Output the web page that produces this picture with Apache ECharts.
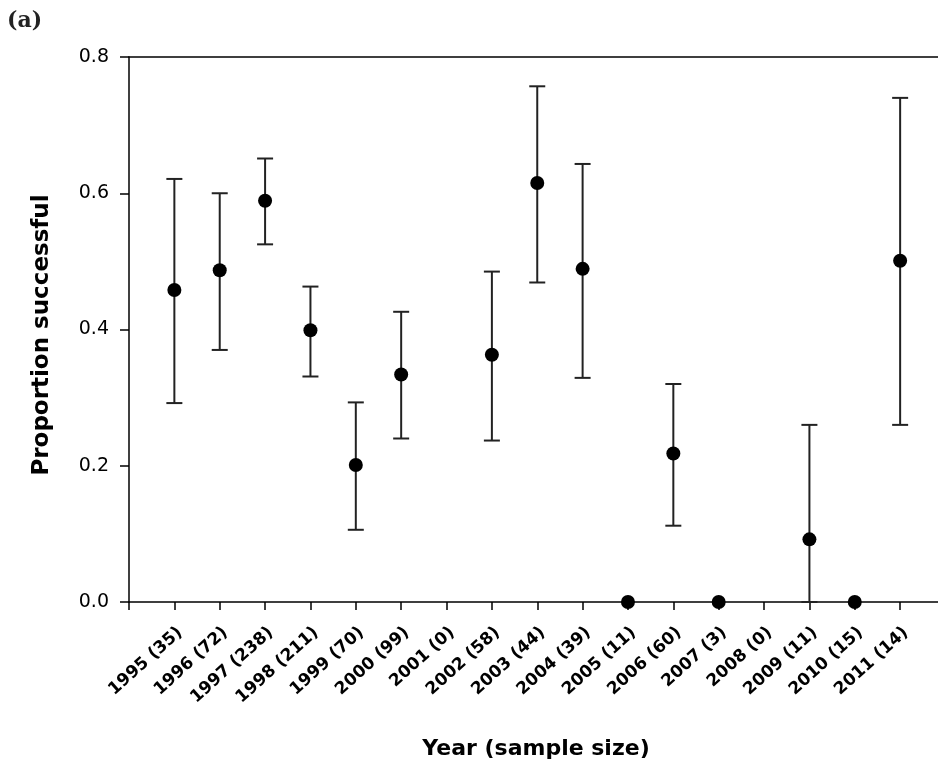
<!DOCTYPE html>
<html>
<head>
<meta charset="utf-8">
<script src="https://cdn.jsdelivr.net/npm/echarts@6/dist/echarts.min.js"></script>
<style>
  html, body { margin: 0; padding: 0; background: #fff; }
  #chart { width: 938px; height: 766px; }
</style>
</head>
<body>
<div id="chart"></div>
<script>
// years and sample sizes (n) for the tick labels
var years = [1995, 1996, 1997, 1998, 1999, 2000, 2001, 2002, 2003, 2004, 2005, 2006, 2007, 2008, 2009, 2010, 2011];
var sampleSizes = [35, 72, 238, 211, 70, 99, 0, 58, 44, 39, 11, 60, 3, 0, 11, 15, 14];

// proportion successful, with lower / upper limits of the error bars
var proportion = [0.458, 0.487, 0.589, 0.399, 0.201, 0.334, null, 0.363, 0.615, 0.489, 0, 0.218, 0, null, 0.092, 0, 0.501];
var lowerCI = [0.292, 0.370, 0.525, 0.331, 0.106, 0.240, null, 0.237, 0.469, 0.329, null, 0.112, null, null, 0, null, 0.260];
var upperCI = [0.621, 0.600, 0.651, 0.463, 0.293, 0.426, null, 0.485, 0.757, 0.643, null, 0.320, null, null, 0.260, null, 0.740];

var yTicks = [0, 0.2, 0.4, 0.6, 0.8];

var myChart = echarts.init(document.getElementById('chart'));

var pointData = [];
var errorData = [];
for (var i = 0; i < years.length; i++) {
  if (proportion[i] !== null) {
    pointData.push([years[i], proportion[i]]);
  }
  if (lowerCI[i] !== null && upperCI[i] !== null) {
    errorData.push([years[i], lowerCI[i], upperCI[i]]);
  }
}

var labelFor = function(v) {
  var idx = years.indexOf(v);
  if (idx < 0) return '';
  return years[idx] + ' (' + sampleSizes[idx] + ')';
};

var renderErrorBar = function(params, api) {
  var x = api.value(0);
  var lo = api.coord([x, api.value(1)]);
  var hi = api.coord([x, api.value(2)]);
  var half = 8;
  var style = { stroke: '#222', lineWidth: 2, fill: null };
  return {
    type: 'group',
    children: [
      { type: 'line', shape: { x1: hi[0], y1: hi[1], x2: lo[0], y2: lo[1] }, style: style },
      { type: 'line', shape: { x1: hi[0] - half, y1: hi[1], x2: hi[0] + half, y2: hi[1] }, style: style },
      { type: 'line', shape: { x1: lo[0] - half, y1: lo[1], x2: lo[0] + half, y2: lo[1] }, style: style }
    ]
  };
};

var option = {
  animation: false,
  backgroundColor: '#fff',
  grid: { left: 129, top: 57, width: 816.5, height: 545, outerBoundsMode: 'none', containLabel: false },
  xAxis: [
    {
      type: 'value',
      min: 1994,
      max: 2012,
      interval: 1,
      position: 'bottom',
      axisLine: { show: true, lineStyle: { color: '#000', width: 1.5 } },
      axisTick: { show: true, length: 8, inside: false, lineStyle: { color: '#000', width: 1.5 } },
      splitLine: { show: false },
      axisLabel: {
        rotate: 42,
        margin: 22,
        verticalAlign: 'top',
        fontFamily: 'DejaVu Sans',
        fontWeight: 'bold',
        fontSize: 17,
        color: '#000',
        formatter: labelFor
      }
    },
    {
      type: 'value',
      min: 1994,
      max: 2012,
      position: 'top',
      axisLine: { show: true, lineStyle: { color: '#000', width: 1.5 } },
      axisTick: { show: false },
      axisLabel: { show: false },
      splitLine: { show: false }
    }
  ],
  yAxis: {
    type: 'value',
    min: 0,
    max: 0.8,
    interval: 0.2,
    axisLine: { show: true, lineStyle: { color: '#000', width: 1.5 } },
    axisTick: { show: true, length: 9, inside: false, lineStyle: { color: '#000', width: 1.5 } },
    splitLine: { show: false },
    axisLabel: {
      margin: 20,
      fontFamily: 'DejaVu Sans',
      fontSize: 19,
      color: '#000',
      formatter: function(v) { return yTicks.indexOf(Math.round(v * 10) / 10) >= 0 ? v.toFixed(1) : ''; }
    }
  },
  graphic: [
    {
      type: 'text',
      left: 7,
      top: 10,
      style: { text: '(a)', font: 'bold 22px "DejaVu Serif"', fill: '#222' }
    },
    {
      type: 'text',
      x: 42,
      y: 335,
      rotation: Math.PI / 2,
      style: {
        text: 'Proportion successful',
        font: 'bold 23px "DejaVu Sans"',
        fill: '#000',
        textAlign: 'center',
        textVerticalAlign: 'middle'
      }
    },
    {
      type: 'text',
      x: 536,
      y: 749,
      style: {
        text: 'Year (sample size)',
        font: 'bold 22px "DejaVu Sans"',
        fill: '#000',
        textAlign: 'center',
        textVerticalAlign: 'middle'
      }
    }
  ],
  series: [
    {
      name: 'error',
      type: 'custom',
      renderItem: renderErrorBar,
      encode: { x: 0, y: [1, 2] },
      data: errorData,
      z: 2
    },
    {
      name: 'proportion',
      type: 'scatter',
      symbol: 'circle',
      symbolSize: 14,
      itemStyle: { color: '#000', opacity: 1 },
      data: pointData,
      z: 3
    }
  ]
};

myChart.setOption(option);
</script>
</body>
</html>
